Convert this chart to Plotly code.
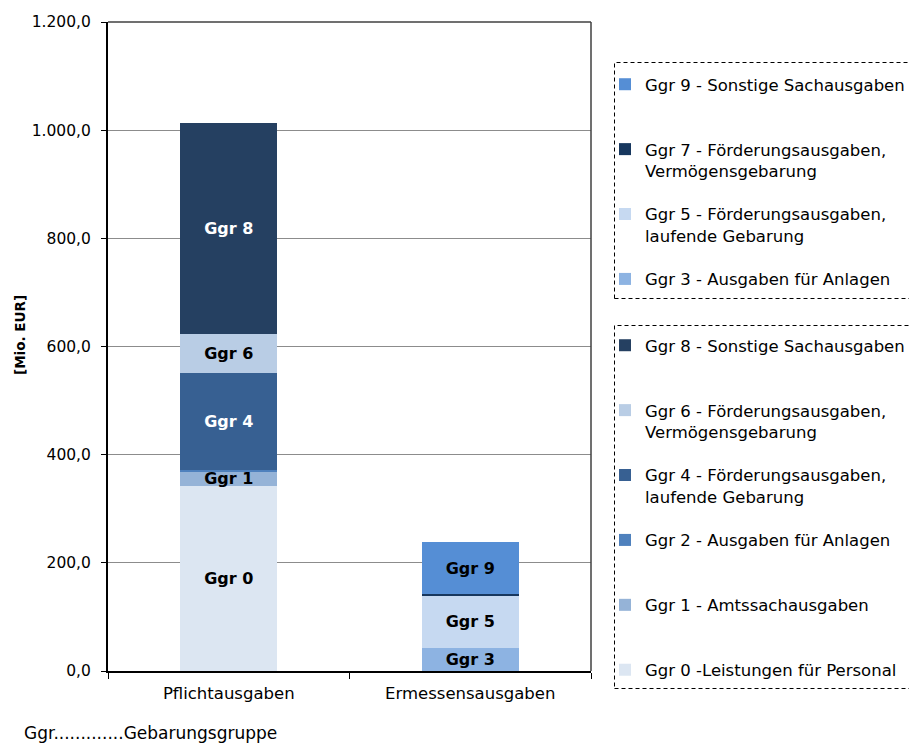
import plotly.graph_objects as go

categories = ["Pflichtausgaben", "Ermessensausgaben"]

ggr_ids = [0, 1, 2, 3, 4, 5, 6, 7, 8, 9]
ggr_names = [
    "Ggr 0 -Leistungen für Personal",
    "Ggr 1 - Amtssachausgaben",
    "Ggr 2 - Ausgaben für Anlagen",
    "Ggr 3 - Ausgaben für Anlagen",
    "Ggr 4 - Förderungsausgaben,<br>laufende Gebarung",
    "Ggr 5 - Förderungsausgaben,<br>laufende Gebarung",
    "Ggr 6 - Förderungsausgaben,<br>Vermögensgebarung",
    "Ggr 7 - Förderungsausgaben,<br>Vermögensgebarung",
    "Ggr 8 - Sonstige Sachausgaben",
    "Ggr 9 - Sonstige Sachausgaben",
]
# which of the two legend boxes each Gebarungsgruppe is listed in
legend_box = ["legend2", "legend2", "legend2", "legend", "legend2",
              "legend", "legend2", "legend", "legend2", "legend"]
# values in Mio. EUR: [Pflichtausgaben, Ermessensausgaben]
values = {
    0: [342, 0],
    1: [27, 0],
    2: [3, 0],
    3: [0, 43],
    4: [179, 0],
    5: [0, 97],
    6: [72, 0],
    7: [0, 2],
    8: [391, 0],
    9: [0, 96],
}
bar_labels = {
    0: ["Ggr 0", ""],
    1: ["Ggr 1", ""],
    2: ["", ""],
    3: ["", "Ggr 3"],
    4: ["Ggr 4", ""],
    5: ["", "Ggr 5"],
    6: ["Ggr 6", ""],
    7: ["", ""],
    8: ["Ggr 8", ""],
    9: ["", "Ggr 9"],
}
colors = ["#dce6f2", "#95b3d7", "#4f81bd", "#8db3e2", "#376092",
          "#c6d9f1", "#b9cde5", "#17375e", "#254061", "#558ed5"]
label_colors = ["black", "black", "black", "black", "white",
                "black", "black", "white", "white", "black"]

y_tickvals = [0, 200, 400, 600, 800, 1000, 1200]
y_ticktext = ["0,0", "200,0", "400,0", "600,0", "800,0", "1.000,0", "1.200,0"]

FONT = "DejaVu Sans"
W, H = 909, 747
L, R, T, B = 108, 909 - 591, 22, 747 - 671
PW, PH = W - L - R, H - T - B


def px_x(px):
    return (px - L) / PW


def px_y(py):
    return (H - B - py) / PH


fig = go.Figure()
for g in ggr_ids:
    name = ggr_names[g]
    if "<br>" not in name:
        name = name + "<br> "
    fig.add_trace(go.Bar(
        x=categories,
        y=values[g],
        name=name,
        marker=dict(color=colors[g], line=dict(width=0)),
        text=bar_labels[g],
        textposition="inside",
        insidetextanchor="middle",
        constraintext="none",
        textfont=dict(family=FONT, size=16, color=label_colors[g], weight="bold"),
        legend=legend_box[g],
        legendgroup=f"g{g}",
        legendrank=100 - g,
        hoverinfo="y+name",
    ))

legend_common = dict(
    font=dict(family=FONT, size=16.5, color="black"),
    bgcolor="rgba(0,0,0,0)",
    borderwidth=0,
    xanchor="left",
    yanchor="top",
    traceorder="grouped",
    tracegroupgap=19,
    valign="top",
    itemwidth=30,
    itemclick=False,
    itemdoubleclick=False,
)

fig.update_layout(
    width=W, height=H,
    margin=dict(l=L, r=R, t=T, b=B, autoexpand=False),
    paper_bgcolor="white",
    plot_bgcolor="white",
    barmode="stack",
    bargap=0.6,
    font=dict(family=FONT, size=15, color="black"),
    legend=dict(x=px_x(605), y=px_y(67), **legend_common),
    legend2=dict(x=px_x(605), y=px_y(328), **legend_common),
    xaxis=dict(
        showline=True, linecolor="black", linewidth=2,
        ticks="outside", ticklen=6, tickcolor="black", tickson="boundaries",
        showgrid=False, ticklabelstandoff=6,
        tickfont=dict(family=FONT, size=16.5, color="black"),
    ),
    yaxis=dict(
        range=[0, 1200],
        tickvals=y_tickvals, ticktext=y_ticktext,
        showline=True, linecolor="black", linewidth=2,
        ticks="outside", ticklen=5, tickcolor="black",
        showgrid=True, gridcolor="#8c8c8c", gridwidth=1,
        zeroline=False, ticklabelstandoff=7,
        tickfont=dict(family=FONT, size=15.5, color="black"),
    ),
    shapes=[
        dict(type="line", xref="paper", yref="paper", x0=0, x1=1, y0=1, y1=1,
             line=dict(color="#404040", width=1.5)),
        dict(type="line", xref="paper", yref="paper", x0=1, x1=1, y0=0, y1=1,
             line=dict(color="#404040", width=1.5)),
        dict(type="rect", xref="paper", yref="paper",
             x0=px_x(614.5), x1=px_x(916), y0=px_y(298.5), y1=px_y(62.5),
             line=dict(color="black", width=1, dash="4px,3px")),
        dict(type="rect", xref="paper", yref="paper",
             x0=px_x(614.5), x1=px_x(916), y0=px_y(688.5), y1=px_y(325.5),
             line=dict(color="black", width=1, dash="4px,3px")),
    ],
    annotations=[
        dict(text="<b>[Mio. EUR]</b>", xref="paper", yref="paper",
             x=px_x(20), y=px_y(335), xanchor="center", yanchor="middle",
             textangle=-90, showarrow=False,
             font=dict(family=FONT, size=13.5, color="black")),
        dict(text="Ggr.............Gebarungsgruppe", xref="paper", yref="paper",
             x=px_x(22), y=px_y(733), xanchor="left", yanchor="middle",
             showarrow=False, font=dict(family=FONT, size=17, color="black")),
    ],
)

fig.write_html("out.html", config={"displayModeBar": False},
               post_script="document.body.style.margin='0';")
